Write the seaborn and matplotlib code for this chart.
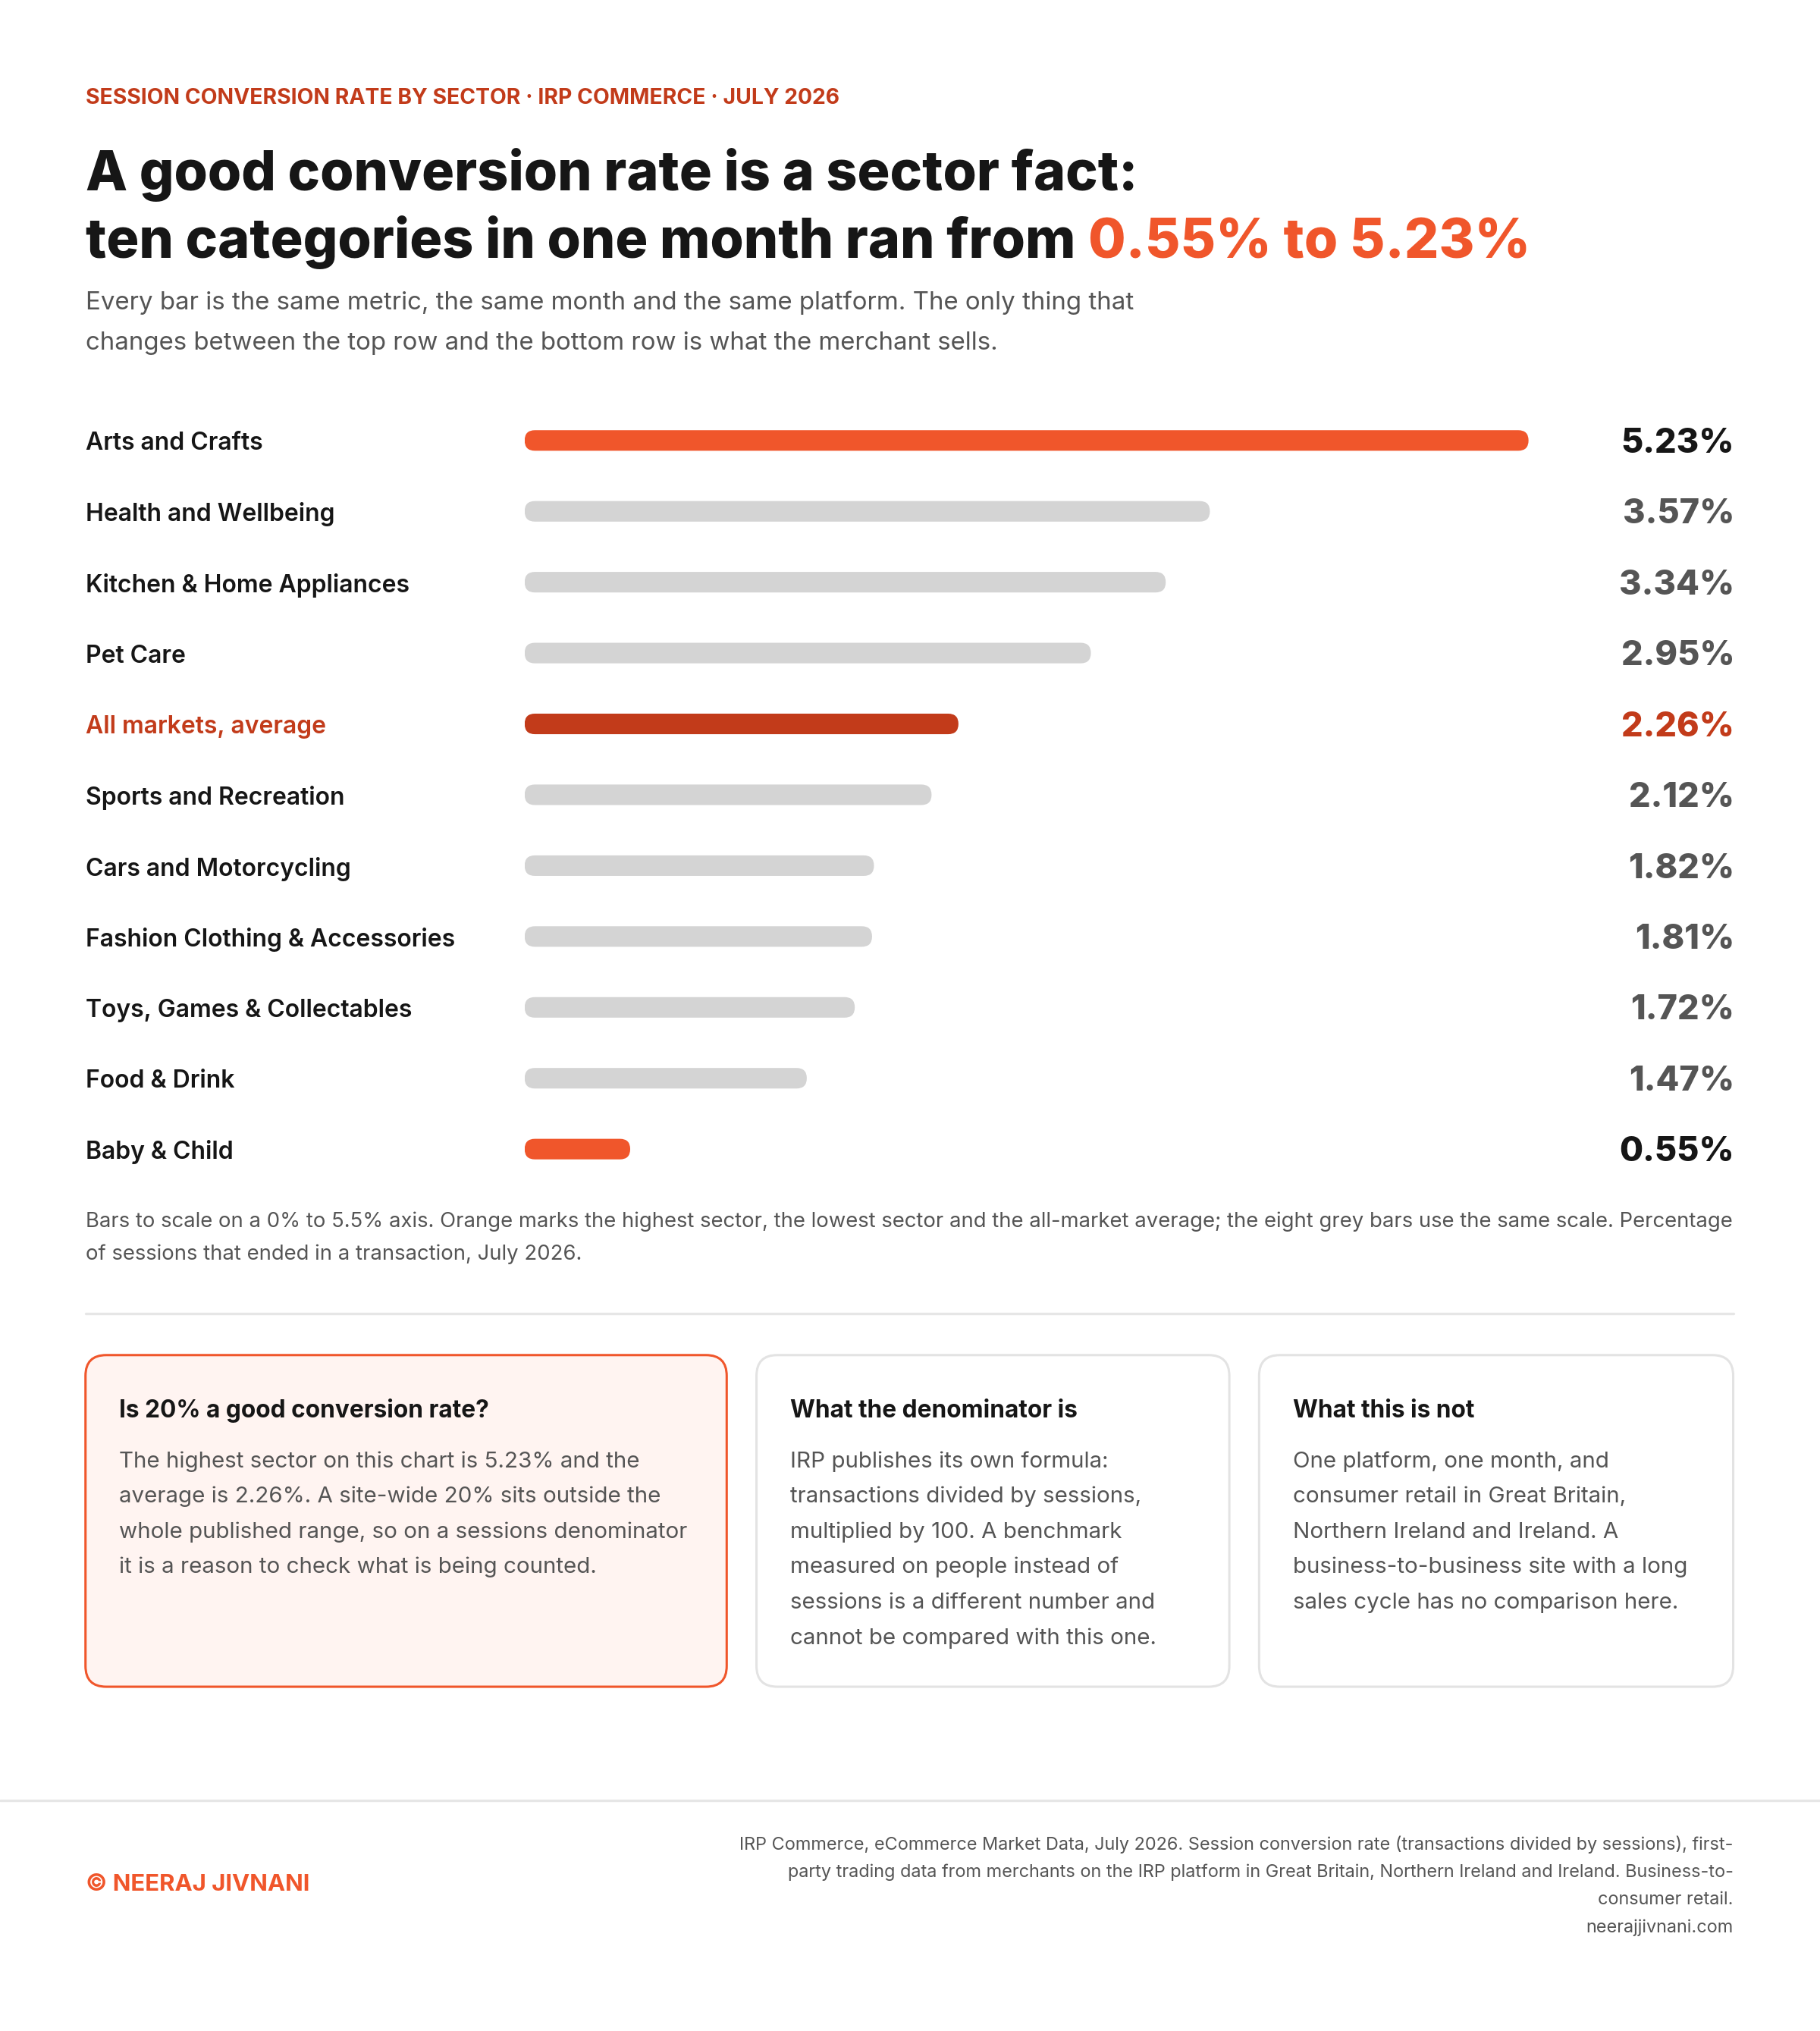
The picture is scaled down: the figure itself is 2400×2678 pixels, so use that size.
"""Session conversion rate by sector, July 2026"""
import matplotlib
matplotlib.use("Agg")
import matplotlib.pyplot as plt
import matplotlib.transforms as mtransforms
from matplotlib.patches import FancyBboxPatch, Rectangle
import pandas as pd
import seaborn as sns

# Data
sectors = [
    "Arts and Crafts",
    "Health and Wellbeing",
    "Kitchen & Home Appliances",
    "Pet Care",
    "All markets, average",
    "Sports and Recreation",
    "Cars and Motorcycling",
    "Fashion Clothing & Accessories",
    "Toys, Games & Collectables",
    "Food & Drink",
    "Baby & Child",
]
rates = [5.23, 3.57, 3.34, 2.95, 2.26, 2.12, 1.82, 1.81, 1.72, 1.47, 0.55]
highlight = ["top", "grey", "grey", "grey", "avg", "grey", "grey", "grey", "grey", "grey", "low"]

cards = [
    ("Is 20% a good conversion rate?",
     ["The highest sector on this chart is 5.23% and the",
      "average is 2.26%. A site-wide 20% sits outside the",
      "whole published range, so on a sessions denominator",
      "it is a reason to check what is being counted."]),
    ("What the denominator is",
     ["IRP publishes its own formula:",
      "transactions divided by sessions,",
      "multiplied by 100. A benchmark",
      "measured on people instead of",
      "sessions is a different number and",
      "cannot be compared with this one."]),
    ("What this is not",
     ["One platform, one month, and",
      "consumer retail in Great Britain,",
      "Northern Ireland and Ireland. A",
      "business-to-business site with a long",
      "sales cycle has no comparison here."]),
]

ORANGE = "#F0562B"
DARK_ORANGE = "#C23B1A"
GREY_BAR = "#D4D4D4"
INK = "#161616"
MUTED = "#555555"

bar_colors = {"top": ORANGE, "low": ORANGE, "avg": DARK_ORANGE, "grey": GREY_BAR}
label_colors = {"top": INK, "low": INK, "avg": DARK_ORANGE, "grey": INK}
value_colors = {"top": INK, "low": INK, "avg": DARK_ORANGE, "grey": MUTED}

sns.set_theme(style="white")
plt.rcParams["font.family"] = ["Inter", "DejaVu Sans"]

# layout units: 1405 wide page, top-left origin
W, H = 1405.0, 2678 * 1405.0 / 2400
fig = plt.figure(figsize=(12, 13.39), dpi=200)
fig.patch.set_facecolor("white")
bg = fig.add_axes([0, 0, 1, 1])
bg.set_xlim(0, W)
bg.set_ylim(H, 0)
bg.set_axis_off()

LEFT, RIGHT = 66, 1338

# header
bg.text(LEFT, 76, "SESSION CONVERSION RATE BY SECTOR · IRP COMMERCE · JULY 2026",
        fontsize=10.2, fontweight="bold", color=DARK_ORANGE, va="center")
bg.text(LEFT, 156, "A good conversion rate is a sector fact:", fontsize=25.8,
        fontweight="heavy", color=INK, va="bottom")
t2 = bg.text(LEFT, 208, "ten categories in one month ran from", fontsize=25.8,
             fontweight="heavy", color=INK, va="bottom")
bg.annotate("0.55% to 5.23%", xy=(1, 0), xycoords=t2, xytext=(6, 0),
            textcoords="offset points", fontsize=25.8, fontweight="heavy",
            color=ORANGE, va="bottom", ha="left")
for i, line in enumerate([
        "Every bar is the same metric, the same month and the same platform. The only thing that",
        "changes between the top row and the bottom row is what the merchant sells."]):
    bg.text(LEFT, 234 + i * 31, line, fontsize=11.9, color=MUTED, va="center")

# bar chart
bar_left, bar_right = 405, 1220
row0, step = 340, 54.7
top_px = row0 - step / 2
bot_px = row0 + step * (len(sectors) - 0.5)
ax = fig.add_axes([bar_left / W, 1 - bot_px / H, (bar_right - bar_left) / W,
                   (bot_px - top_px) / H])
ax.patch.set_alpha(0)

df = pd.DataFrame({"sector": sectors, "rate": rates, "kind": highlight})
palette = {s: bar_colors[k] for s, k in zip(sectors, highlight)}
sns.barplot(data=df, x="rate", y="sector", hue="sector", palette=palette,
            legend=False, width=0.29, saturation=1, orient="h", ax=ax)
ax.set_xlim(0, 5.5)
ax.set_ylim(len(sectors) - 0.5, -0.5)

# round the bar ends
x_per_px = 5.5 / (bar_right - bar_left)
y_per_px = len(sectors) / (bot_px - top_px)
aspect = y_per_px / x_per_px
for p in list(ax.patches):
    if not isinstance(p, Rectangle):
        continue
    x, y, w, h = p.get_x(), p.get_y(), p.get_width(), p.get_height()
    r = h / aspect / 2
    rounded = FancyBboxPatch((x, y), w, h, boxstyle=f"round,pad=0,rounding_size={r}",
                             mutation_aspect=aspect, facecolor=p.get_facecolor(),
                             edgecolor="none")
    p.remove()
    ax.add_patch(rounded)
ax.set_axis_off()

tr = mtransforms.blended_transform_factory(bg.transData, ax.transData)
shift = mtransforms.offset_copy(tr, fig=fig, x=0, y=-1.5, units="points")
for i, (s, v, k) in enumerate(zip(sectors, rates, highlight)):
    bg.text(LEFT, i, s, transform=shift, fontsize=11.5, fontweight="semibold",
            color=label_colors[k], va="center")
    bg.text(RIGHT + 1, i, f"{v:.2f}%", transform=shift, fontsize=16.2, fontweight="heavy",
            color=value_colors[k], va="center", ha="right")

# note under chart
for i, line in enumerate([
        "Bars to scale on a 0% to 5.5% axis. Orange marks the highest sector, the lowest sector and the all-market average; the eight grey bars use the same scale. Percentage",
        "of sessions that ended in a transaction, July 2026."]):
    bg.text(LEFT, 943 + i * 25, line, fontsize=9.9, color=MUTED, va="center")

bg.plot([LEFT, RIGHT], [1014, 1014], color="#E6E6E6", lw=1.2)

# cards
card_x = [(66, 561), (584, 949), (972, 1338)]
card_top, card_bot = 1046, 1302
for j, ((x0, x1), (title, body)) in enumerate(zip(card_x, cards)):
    fc = "#FFF4F1" if j == 0 else "white"
    ec = ORANGE if j == 0 else "#E3E3E3"
    bg.add_patch(FancyBboxPatch((x0, card_top), x1 - x0, card_bot - card_top,
                                boxstyle="round,pad=0,rounding_size=16",
                                facecolor=fc, edgecolor=ec, lw=1.1))
    bg.text(x0 + 26, 1089, title, fontsize=11.4, fontweight="bold", color=INK, va="center")
    for i, line in enumerate(body):
        bg.text(x0 + 26, 1128 + i * 27.3, line, fontsize=10.65, color=MUTED, va="center")

# footer
bg.plot([0, W], [1390, 1390], color="#E6E6E6", lw=1.2)
bg.text(LEFT, 1455, "© NEERAJ JIVNANI", fontsize=11.2, fontweight="bold",
        color=ORANGE, va="center")
for i, line in enumerate([
        "IRP Commerce, eCommerce Market Data, July 2026. Session conversion rate (transactions divided by sessions), first-",
        "party trading data from merchants on the IRP platform in Great Britain, Northern Ireland and Ireland. Business-to-",
        "consumer retail.",
        "neerajjivnani.com"]):
    bg.text(RIGHT, 1424 + i * 21.3, line, fontsize=8.45, color=MUTED, va="center", ha="right")

fig.savefig("out.png", dpi=200, facecolor="white")
